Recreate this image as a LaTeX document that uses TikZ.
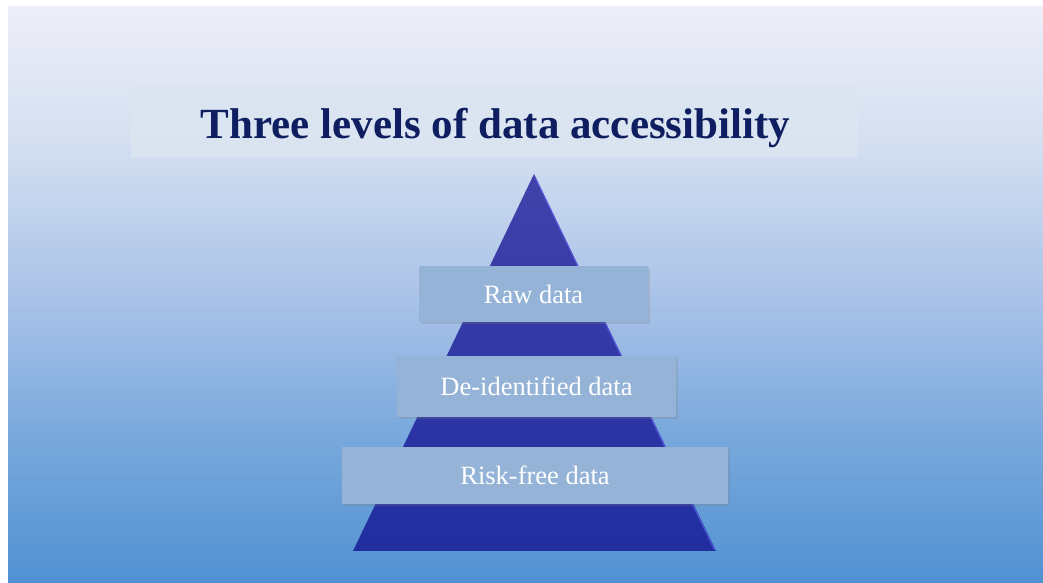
\documentclass[tikz,border=0pt]{standalone}
\usepackage{fontspec}
\setmainfont{Liberation Serif}
\usetikzlibrary{shadows,calc}
\definecolor{bg0}{RGB}{80,145,210}
\definecolor{bg1}{RGB}{120,168,220}
\definecolor{bg2}{RGB}{170,195,232}
\definecolor{bg3}{RGB}{210,222,240}
\definecolor{bg4}{RGB}{238,238,248}
\pgfdeclareverticalshading{bgshade}{100bp}{
  color(0bp)=(bg0);
  color(25bp)=(bg0);
  color(37.5bp)=(bg1);
  color(50bp)=(bg2);
  color(62.5bp)=(bg3);
  color(75bp)=(bg4);
  color(100bp)=(bg4)}
\definecolor{pyrtop}{RGB}{66,66,170}
\definecolor{pyrbot}{RGB}{32,46,160}
\definecolor{boxfill}{RGB}{148,179,215}
\definecolor{titlefill}{RGB}{220,230,241}
\definecolor{titletext}{RGB}{14,30,96}
\tikzset{
  tierbox/.style={rectangle, fill=boxfill, inner sep=0pt, text=white,
    font=\fontsize{26.5}{30}\selectfont,
    drop shadow={shadow xshift=2pt, shadow yshift=-2pt, opacity=0.25}},
}
\begin{document}
\begin{tikzpicture}[x=1pt,y=1pt]
\useasboundingbox (0,0) rectangle (1043,583);
\fill[white] (0,0) rectangle (1043,583);
\shade[shading=bgshade] (8,0) rectangle (1043,576);
% title
\node[fill=titlefill, fill opacity=0.85, minimum width=727pt, minimum height=72pt, inner sep=0pt] (title) at (494.5,461) {};
\node[text=titletext, font=\bfseries\fontsize{43}{48}\selectfont, inner sep=0pt] (titletxt) at (495.5,455) {Three levels of data accessibility};
% pyramid
\coordinate (apex) at (534,409);
\coordinate (bl) at (353,32);
\coordinate (br) at (716,32);
\shade[top color=pyrtop, bottom color=pyrbot] (apex) -- (br) -- (bl) -- cycle;
\draw[color=blue!60!white, line width=1.2pt, opacity=0.6] ($(apex)+(1.5,-4)$) -- ($(br)+(-1.5,1)$);
% tiers
\node[tierbox, minimum width=229pt, minimum height=56pt] (raw) at (533.5,289) {Raw data};
\node[tierbox, minimum width=279pt, minimum height=61pt] (deid) at (536.5,196.5) {De-identified data};
\node[tierbox, minimum width=386pt, minimum height=57pt] (risk) at (535,107.5) {Risk-free data};
\end{tikzpicture}
\end{document}
